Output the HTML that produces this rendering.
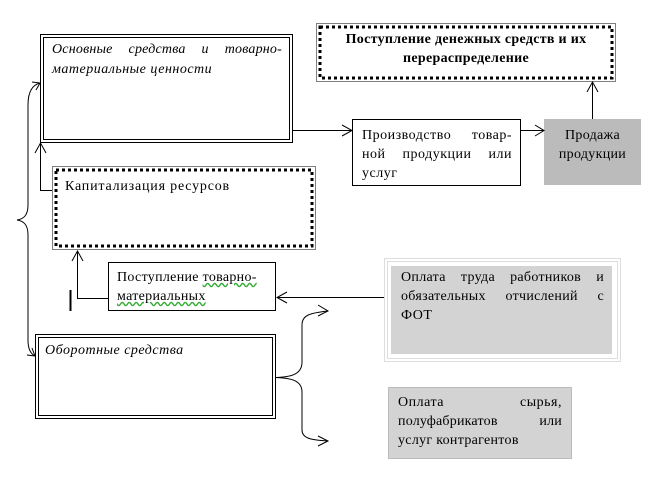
<!DOCTYPE html>
<html><head><meta charset="utf-8"><style>
body{margin:0;width:656px;height:478px;background:#fff;position:relative;overflow:hidden;font-family:"Liberation Serif",serif;font-size:14px;letter-spacing:0.5px;color:#000}
.t{position:absolute;line-height:19px;white-space:nowrap}
.j{text-align:justify;text-align-last:justify}
.i{font-style:italic}
</style></head><body>
<svg width="656" height="478" style="position:absolute;left:0;top:0" fill="none" stroke="#000">
<rect x="40.5" y="34.5" width="252" height="108"/>
<rect x="43.5" y="37.5" width="246" height="102"/>
<rect x="52.5" y="166.5" width="263" height="83" stroke-width="1" stroke-dasharray="1 1"/>
<rect x="56" y="170" width="256" height="76" stroke-width="3" stroke-dasharray="3 3"/>
<rect x="316.5" y="23.5" width="299" height="58" stroke-width="1" stroke-dasharray="1 1"/>
<rect x="320" y="27" width="292" height="51" stroke-width="3" stroke-dasharray="3 3"/>
<rect x="352.5" y="119.5" width="168" height="66"/>
<rect x="544" y="119" width="97" height="66" fill="#bbbbbb" stroke="none"/>
<rect x="108.5" y="262.5" width="167" height="48"/>
<rect x="384.5" y="258.5" width="236" height="103" stroke="#ddd"/>
<rect x="387.5" y="261.5" width="230" height="97" stroke="#ddd"/>
<rect x="391" y="266" width="221" height="88" fill="#d3d3d3" stroke="none"/>
<rect x="35.5" y="334.5" width="240" height="84"/>
<rect x="38.5" y="337.5" width="234" height="78"/>
<rect x="388.5" y="387.5" width="183" height="71" fill="#d3d3d3" stroke="#bbb"/>
<path d="M293 130.5H352 M342 125l10 5.5-10 5.5"/>
<path d="M521 130.5H544 M535 125l9 5.5-9 5.5"/>
<path d="M592.5 119V82 M587 92l5.5-10 5.5 10"/>
<path d="M52 190.5H40.5V143 M35 153l5.5-10 5.5 10"/>
<path d="M108 298.5H77.5V251 M72 261l5.5-10 5.5 10"/>
<path d="M70.5 290V311" stroke-width="2"/>
<path d="M384 297.5H277 M287 292l-10 5.5 10 5.5"/>
<path d="M40 83 C32 85 28 92 28 105 V205 C28 215 24 219 17 220 C24 221 28 225 28 235 V340 C28 350 31 354 35 356"/>
<path d="M32 82l8 1-4 7 M27 355l8 1-3-8"/>
<path d="M276 377.5 C290 377 302 375 302 362 V325 C302 315 310 313 328 311 M276 377.5 C290 378 302 380 302 392 V430 C302 438 310 440 328 441"/>
<path d="M318 305l10 6-10 5 M318 436l10 5-10 5"/>
</svg>
<div class="t i j" style="left:52px;top:40px;width:230px;letter-spacing:0.2px">Основные средства и товарно-</div>
<div class="t i" style="left:52px;top:60px">материальные ценности</div>
<div class="t" style="left:65px;top:177px;letter-spacing:0.8px">Капитализация ресурсов</div>
<div class="t" style="left:318px;top:30px;width:296px;text-align:center;font-weight:bold;letter-spacing:0.3px">Поступление денежных средств и их<br>перераспределение</div>
<div class="t j" style="left:362px;top:126px;width:150px">Производство товар-</div>
<div class="t j" style="left:362px;top:145px;width:150px">ной продукции или</div>
<div class="t" style="left:362px;top:164px">услуг</div>
<div class="t" style="left:544px;top:126px;width:97px;text-align:center;letter-spacing:0.3px">Продажа<br>продукции</div>
<div class="t" style="left:117px;top:268px;letter-spacing:0.3px">Поступление <span style="text-decoration:underline wavy #3a3">товарно-</span></div>
<div class="t" style="left:117px;top:287px;text-decoration:underline wavy #3a3;letter-spacing:0.3px">материальных</div>
<div class="t j" style="left:401px;top:268px;width:203px;letter-spacing:0.3px">Оплата труда работников и</div>
<div class="t j" style="left:401px;top:287px;width:203px;letter-spacing:0.3px">обязательных отчислений с</div>
<div class="t" style="left:401px;top:306px">ФОТ</div>
<div class="t i" style="left:45px;top:341px">Оборотные средства</div>
<div class="t j" style="left:398px;top:393px;width:164px">Оплата сырья,</div>
<div class="t j" style="left:398px;top:412px;width:164px;letter-spacing:0.2px">полуфабрикатов или</div>
<div class="t" style="left:398px;top:431px;letter-spacing:0.3px">услуг контрагентов</div>
</body></html>
